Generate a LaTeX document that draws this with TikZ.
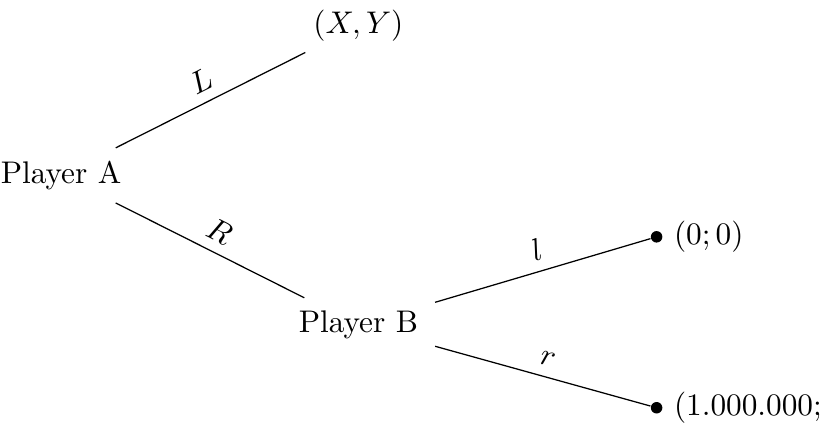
\documentclass[tikz,border=0pt]{standalone}
\usepackage{tikz}
\usetikzlibrary{positioning}

\begin{document}
\begin{tikzpicture}[
			player/.style={inner xsep=5.3pt, inner ysep=4pt},
			payoff/.style={inner xsep=5.3pt, inner ysep=3.33pt},
			leaf/.style={
				circle, fill=black,
				inner sep=1.3pt
			},
			branch/.style={-, thin, black},
			lbl/.style={above, sloped}
			]
			
			\useasboundingbox (-0.685, -2.88) rectangle (8.66, 1.97);
			
			%% ── Root and first moves ────────────────────────────────────────────
			\node[player] (pa) at (0, 0)        {Player A};
			\node[payoff] (xy) at (3.34,  1.68) {$(X,Y)$};
			\node[player] (pb) at (3.34, -1.68) {Player B};
			
			%% ── Terminal dots of Player B ───────────────────────────────────────
			\node[leaf, label={[inner sep=3.33pt]right:$(0;0)$}]         (tl) at (6.69, -0.69) {};
			\node[leaf, label={[inner sep=3.33pt]right:$(1.000.000;$}] (tr) at (6.69, -2.61) {};
			
			%% Player A's choices
			\draw[branch] (pa) -- node[lbl] {$L$} (xy);
			\draw[branch] (pa) -- node[lbl] {$R$} (pb);
			
			%% Player B's choices
			\draw[branch] (pb) -- node[lbl] {$l$} (tl);
			\draw[branch] (pb) -- node[lbl] {$r$} (tr);
			
		\end{tikzpicture}
\end{document}
